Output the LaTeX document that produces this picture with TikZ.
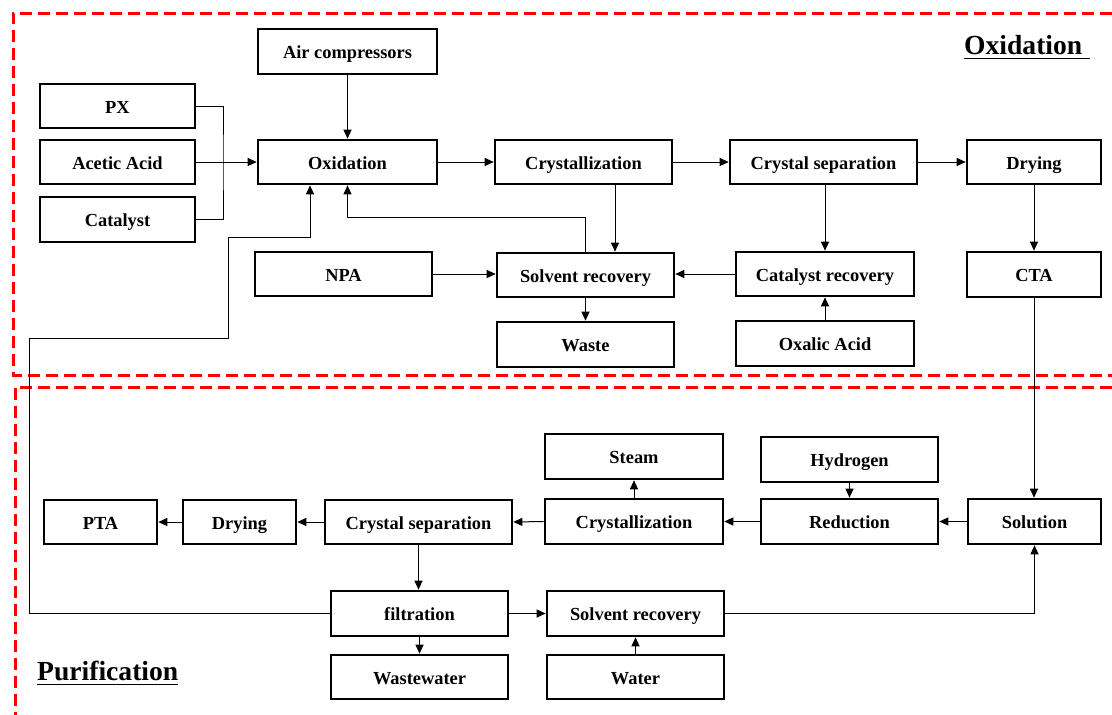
\documentclass[tikz,border=0pt]{standalone}
\usepackage{fontspec}
\setmainfont{Liberation Serif}
\usetikzlibrary{arrows.meta}
\newcommand\bx[6]{\node[box,minimum width={#4-#2},minimum height={#5-#3}] (#1) at ({(#2+#4)/2},{(#3+#5)/2}) {#6};}
\begin{document}
\begin{tikzpicture}[x=1pt,y=-1pt,
  box/.style={draw,line width=2.6pt,inner sep=0pt,text height=16pt,text depth=2pt,font=\fontsize{18.4}{20}\selectfont\bfseries},
  conn/.style={line width=1pt,-{Triangle[length=9pt,width=8pt]}},
  plain/.style={line width=1pt},
  region/.style={draw=red,line width=3pt,dash pattern=on 12pt off 6pt},
  title/.style={inner sep=0pt,anchor=base west,font=\fontsize{27.6}{30}\selectfont\bfseries}]
\useasboundingbox (0,0) rectangle (1112,715);
% regions
\draw[region] (1112,13) -- (13,13) -- (13,375) -- (1112,375);
\draw[region] (1112,387) -- (15,387) -- (15,715);
% titles
\node[title] (tox) at (964,54) {Oxidation};
\draw[line width=1.6pt] ([yshift=-4.5pt]tox.base west) -- ([yshift=-4.5pt,xshift=7pt]tox.base east);
\node[title] (tpu) at (37,680) {Purification};
\draw[line width=1.6pt] ([yshift=-4.5pt]tpu.base west) -- ([yshift=-4.5pt]tpu.base east);
% oxidation boxes
\bx{air}{258}{29}{437}{74}{Air compressors}
\bx{px}{40}{84}{195}{128}{PX}
\bx{aa}{40}{140}{195}{184}{Acetic Acid}
\bx{cat}{40}{197}{195}{242}{Catalyst}
\bx{oxi}{258}{140}{437}{184}{Oxidation}
\bx{cry1}{495}{140}{672}{184}{Crystallization}
\bx{cs1}{730}{140}{917}{184}{Crystal separation}
\bx{dry1}{967}{140}{1101}{184}{Drying}
\bx{npa}{255}{252}{432}{296}{NPA}
\bx{sr1}{497}{253}{674}{297}{Solvent recovery}
\bx{cr}{736}{252}{914}{296}{Catalyst recovery}
\bx{cta}{967}{252}{1101}{297}{CTA}
\bx{waste}{497}{322}{674}{367}{Waste}
\bx{oxa}{736}{321}{914}{366}{Oxalic Acid}
% purification boxes
\bx{steam}{545}{434}{723}{479}{Steam}
\bx{hyd}{761}{437}{938}{482}{Hydrogen}
\bx{cry2}{545}{499}{723}{544}{Crystallization}
\bx{red}{761}{499}{938}{544}{Reduction}
\bx{sol}{968}{499}{1101}{544}{Solution}
\bx{pta}{44}{500}{157}{544}{PTA}
\bx{dry2}{183}{500}{296}{544}{Drying}
\bx{cs2}{325}{500}{512}{544}{Crystal separation}
\bx{filt}{331}{591}{508}{636}{filtration}
\bx{sr2}{547}{591}{724}{636}{Solvent recovery}
\bx{ww}{331}{655}{508}{699}{Wastewater}
\bx{water}{547}{655}{724}{699}{Water}
% helper coordinates
\coordinate (xA) at (615,0);
\coordinate (xF) at (310,0);
\coordinate (yK) at (0,217);
\coordinate (br) at (223,162);
\coordinate (l1) at (29,338);
\coordinate (l2) at (228,237);
% oxidation connectors
\draw[plain] (px.east) -| (br) |- (cat.east);
\draw[conn] (aa.east) -- (oxi.west);
\draw[conn] (air.south) -- (oxi.north);
\draw[conn] (oxi.east) -- (cry1.west);
\draw[conn] (cry1.east) -- (cs1.west);
\draw[conn] (cs1.east) -- (dry1.west);
\draw[conn] (dry1.south) -- (cta.north);
\draw[conn] (cry1.south -| xA) -- (sr1.north -| xA);
\draw[conn] (cs1.south -| cr.north) -- (cr.north);
\draw[conn] (sr1.north) -- (sr1.north |- yK) -| (oxi.south);
\draw[conn] (npa.east) -- (npa.east -| sr1.west);
\draw[conn] (cr.west) -- (cr.west -| sr1.east);
\draw[conn] (oxa.north) -- (cr.south);
\draw[conn] (sr1.south) -- (waste.north);
\draw[conn] (cta.south) -- (sol.north -| cta.south);
% purification connectors
\draw[conn] (sol.west) -- (red.east);
\draw[conn] (red.west) -- (cry2.east);
\draw[conn] (hyd.south) -- (red.north);
\draw[conn] (cry2.north) -- (steam.south);
\draw[conn] (cry2.west) -- (cs2.east);
\draw[conn] (cs2.west) -- (dry2.east);
\draw[conn] (dry2.west) -- (pta.east);
\draw[conn] (cs2.south) -- (filt.north -| cs2.south);
\draw[conn] (filt.south) -- (ww.north);
\draw[conn] (filt.east) -- (sr2.west);
\draw[conn] (water.north) -- (sr2.south -| water.north);
\draw[conn] (sr2.east) -| (sol.south);
% recycle loop
\draw[conn] (filt.west) -| (l1) -| (l2) -| (oxi.south -| xF);
\end{tikzpicture}
\end{document}
